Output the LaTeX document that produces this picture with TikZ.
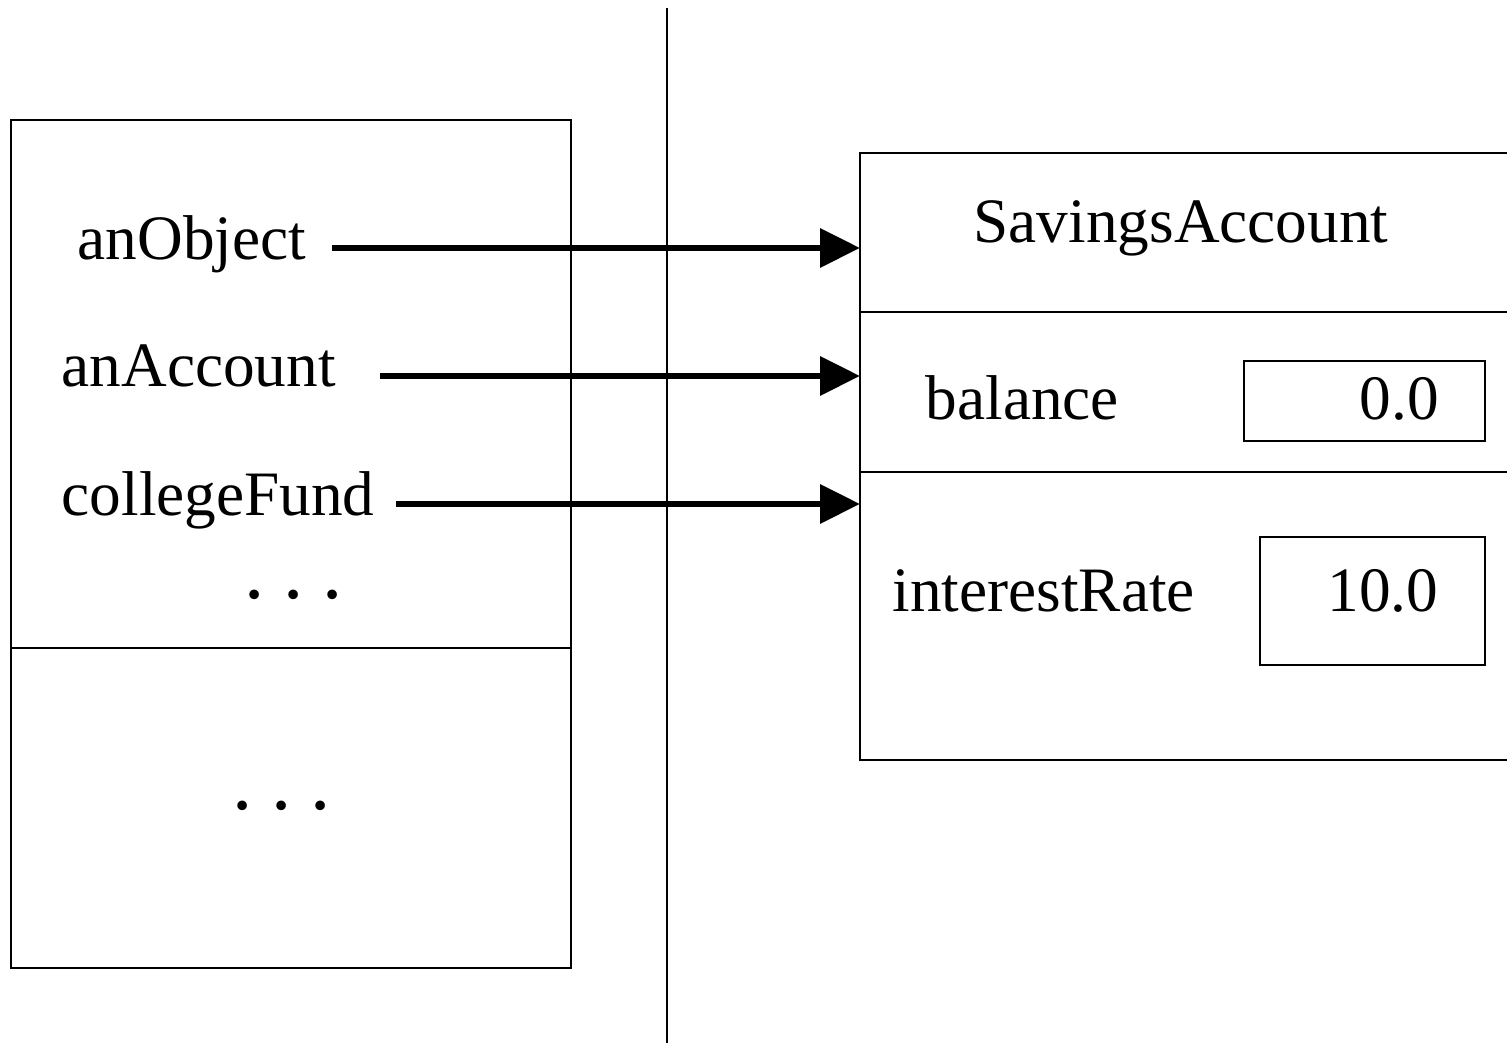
\documentclass[tikz,border=0pt]{standalone}
\usepackage{fontspec}
\setmainfont{Liberation Serif}
\usetikzlibrary{arrows.meta}
\begin{document}
\begin{tikzpicture}[
  frame/.style={line width=0.6pt},
  lbl/.style={anchor=base west, inner sep=0pt, font=\fontsize{18}{22}\selectfont},
  dotlbl/.style={anchor=base west, inner sep=0pt, font=\fontsize{23}{26}\selectfont},
  valbox/.style={draw, line width=0.6pt, inner sep=0pt, anchor=north west},
  ptr/.style={line width=1.9pt, -{Triangle[length=4mm,width=3.8mm]}}
]
\clip (0,0) rectangle (15.07,10.43);
\fill[white] (0,0) rectangle (15.07,10.43);
% left box
\draw[frame] (0.11,9.23) rectangle (5.71,0.75);
\draw[frame] (0.11,3.95) -- (5.71,3.95);
% vertical divider
\coordinate (vtop) at (6.67,10.35);
\coordinate (vbot) at (6.67,0);
\draw[frame] (vtop) -- (vbot);
% right box (open on the right edge)
\draw[frame] (15.2,8.90) -- (8.60,8.90) -- (8.60,2.83) -- (15.2,2.83);
\draw[frame] (8.60,7.31) -- (15.2,7.31);
\draw[frame] (8.60,5.71) -- (15.2,5.71);
% value boxes
\node[valbox, minimum width=2.41cm, minimum height=0.80cm] (bbox) at (12.43,6.83) {};
\node[valbox, minimum width=2.25cm, minimum height=1.28cm] (rbox) at (12.59,5.07) {};
% left labels
\node[lbl] (aobj) at (0.77,10.43-2.60) {anObject};
\node[lbl] (aacc) at (0.61,10.43-3.87) {anAccount};
\node[lbl] (cfund) at (0.61,10.43-5.16) {collegeFund};
\node[dotlbl] (dots1) at (2.44,10.43-5.99) {.\kern0.185cm.\kern0.185cm.};
\node[dotlbl] (dots2) at (2.32,10.43-8.10) {.\kern0.185cm.\kern0.185cm.};
% right labels
\node[lbl] (cls) at (9.73,10.43-2.43) {SavingsAccount};
\node[lbl] (bal) at (9.25,10.43-4.20) {balance};
\node[lbl] (balv) at (13.59,10.43-4.20) {0.0};
\node[lbl] (rate) at (8.92,10.43-6.12) {interestRate};
\node[lbl] (ratev) at (13.27,10.43-6.12) {10.0};
% pointer arrows
\coordinate (s1) at (3.32,10.43-2.48);
\coordinate (e1) at (8.60,10.43-2.48);
\coordinate (s2) at (3.80,10.43-3.76);
\coordinate (e2) at (8.60,10.43-3.76);
\coordinate (s3) at (3.96,10.43-5.04);
\coordinate (e3) at (8.60,10.43-5.04);
\draw[ptr] (s1) -- (e1);
\draw[ptr] (s2) -- (e2);
\draw[ptr] (s3) -- (e3);
\end{tikzpicture}
\end{document}
